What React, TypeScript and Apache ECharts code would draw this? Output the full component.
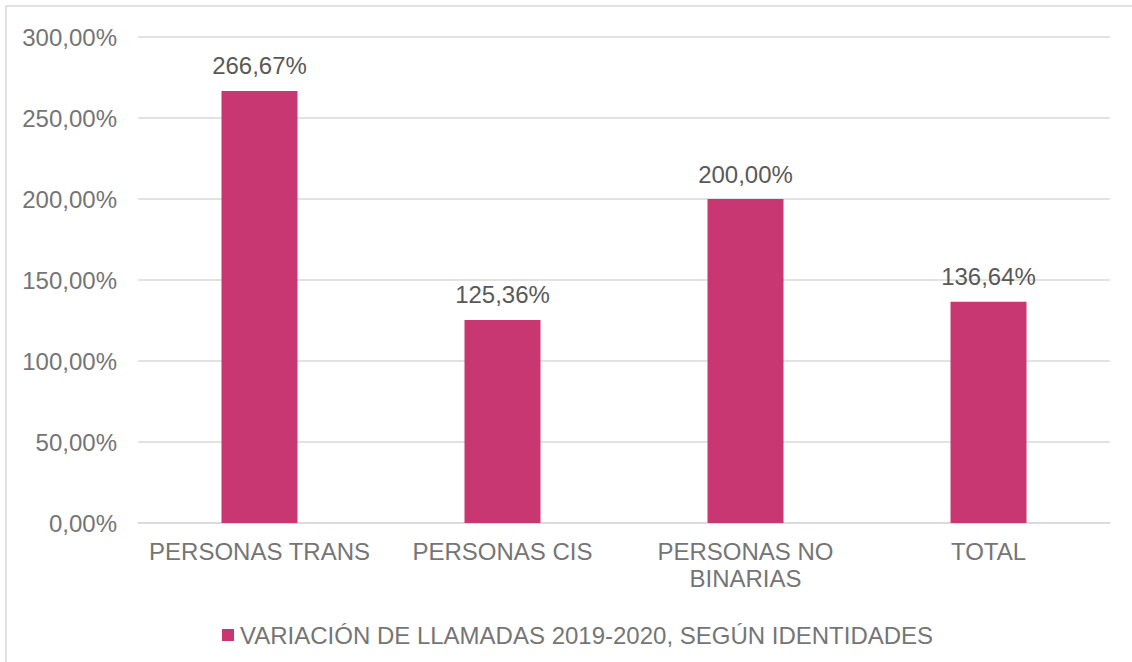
import React, { useEffect, useRef } from "react";
import * as echarts from "echarts";

const categories = ["PERSONAS TRANS", "PERSONAS CIS", "PERSONAS NO\nBINARIAS", "TOTAL"];
const values = [266.67, 125.36, 200.0, 136.64];
const seriesName = "VARIACIÓN DE LLAMADAS 2019-2020, SEGÚN IDENTIDADES";

const fmt = (v: number) => v.toFixed(2).replace(".", ",") + "%";

export default function App() {
  const ref = useRef<HTMLDivElement>(null);
  useEffect(() => {
    if (!ref.current) return;
    const chart = echarts.init(ref.current, null, { renderer: "svg" });
    const font = "Liberation Sans, Arial, sans-serif";
    chart.setOption({
      animation: false,
      backgroundColor: "#ffffff",
      textStyle: { fontFamily: font },
      graphic: [
        {
          type: "rect",
          shape: { x: 6, y: 6, width: 1140, height: 670 },
          style: { fill: "none", stroke: "#d9d9d9", lineWidth: 1.5 },
          silent: true,
        },
      ],
      grid: { left: 138, right: 22, top: 37, bottom: 139 },
      legend: {
        top: 618,
        left: 217,
        itemWidth: 12,
        itemHeight: 12,
        itemGap: 6,
        icon: "rect",
        textStyle: { fontSize: 24, color: "#757575", fontFamily: font, padding: [0, 0, 0, 1] },
        data: [seriesName],
      },
      xAxis: {
        type: "category",
        data: categories,
        axisLine: { lineStyle: { color: "#d9d9d9", width: 1.5 } },
        axisTick: { show: false },
        axisLabel: { fontSize: 24, color: "#757575", margin: 15, lineHeight: 27, fontFamily: font, interval: 0 },
      },
      yAxis: {
        type: "value",
        min: 0,
        max: 300,
        interval: 50,
        axisLine: { show: false },
        axisTick: { show: false },
        splitLine: { lineStyle: { color: "#d9d9d9", width: 1.5 } },
        axisLabel: { fontSize: 24, color: "#757575", margin: 21, fontFamily: font, formatter: (v: number) => fmt(v) },
      },
      series: [
        {
          name: seriesName,
          type: "bar",
          data: values,
          barWidth: 76,
          itemStyle: { color: "#c83771" },
          label: {
            show: true,
            position: "top",
            distance: 13,
            fontSize: 24,
            color: "#595959",
            fontFamily: font,
            formatter: (p: any) => fmt(p.value),
          },
        },
      ],
    });
    return () => chart.dispose();
  }, []);
  return (
    <div
      ref={ref}
      style={{ position: "fixed", left: 0, top: 0, width: 1132, height: 662 }}
    />
  );
}
